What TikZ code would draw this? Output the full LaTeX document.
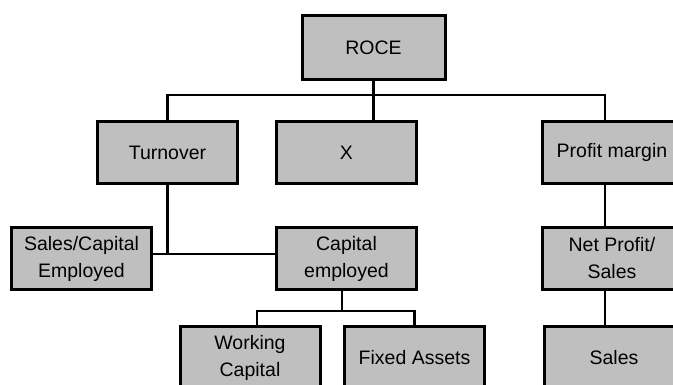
\documentclass[tikz,border=0pt]{standalone}
\usepackage{fontspec}
\setmainfont{Liberation Sans}
\begin{document}
\begin{tikzpicture}[x=1pt,y=-1pt,
    ratio/.style = {rectangle,
        draw, line width=3pt,
        fill=black!25,
        minimum width=140pt, minimum height=62pt,
        inner sep=0pt, align=center,
        font=\fontsize{19.5}{27}\selectfont},
    link/.style = {line width=2.6pt}]

\useasboundingbox (0,0) rectangle (673,385);
\clip (0,0) rectangle (673,385);

% Top
\node[ratio,minimum width=143pt,minimum height=64pt] (roce) at (373.5,48) {ROCE};

% Second level
\node[ratio] (turnover) at (167.5,152.5) {Turnover};
\node[ratio] (x) at (346.5,152.5) {X};
\node[ratio] (pm) at (612,152.5) {Profit margin};

% Third level
\node[ratio] (sce) at (81.5,258.5) {Sales/Capital\\Employed};
\node[ratio] (ce) at (346.5,258.5) {Capital\\employed};
\node[ratio] (np) at (612,258.5) {Net Profit/\\Sales};

% Bottom
\node[ratio] (wc) at (250,357.5) {Working\\Capital};
\node[ratio] (fa) at (414.5,357.5) {Fixed Assets};
\node[ratio] (sales) at (614,357.5) {Sales};

% Connectors
\draw[link] (roce.south) -- (roce.south |- x.north);
\draw[link] (turnover.north) -- ++(0,-25) -| ([xshift=-7pt]pm.north);
\draw[link] (turnover.south) -- ([yshift=4.5pt]turnover.south |- sce.east);
\draw[link] ([yshift=4.5pt]sce.east) -- ([yshift=4.5pt]ce.west);
\draw[link] ([xshift=-4.5pt]ce.south) -- ++(0,20) -| ([xshift=7pt]wc.north);
\draw[link] ([xshift=-4.5pt]ce.south) ++(0,20) -| (fa.north);
\draw[link] ([xshift=-7pt]pm.south) -- ([xshift=-7pt]np.north);
\draw[link] ([xshift=-7pt]np.south) -- ([xshift=-7pt]np.south |- sales.north);

\end{tikzpicture}
\end{document}
